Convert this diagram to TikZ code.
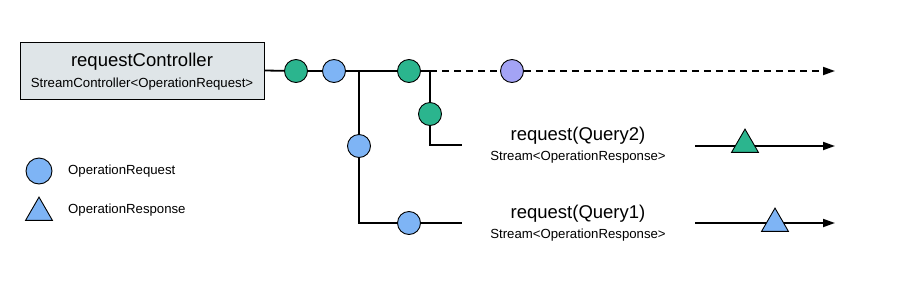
\documentclass[tikz,border=0pt]{standalone}
\usepackage{fontspec}
\setmainfont{Liberation Sans}
\usetikzlibrary{arrows.meta,shapes.geometric}
\definecolor{tgreen}{HTML}{2BB58E}
\definecolor{tblue}{HTML}{7EB4F5}
\definecolor{tpurple}{HTML}{A3A3F5}
\definecolor{tbox}{HTML}{DFE5E8}
\tikzset{
  dot/.style={circle,draw=black,line width=0.9pt,minimum size=23pt,inner sep=0pt},
  tri/.style={regular polygon,regular polygon sides=3,draw=black,line width=0.9pt,minimum size=31pt,inner sep=0pt},
  wire/.style={line width=1.8pt,black},
  dwire/.style={wire,dash pattern=on 7pt off 5pt},
  tip/.style={-{Triangle[length=12pt,width=8pt]}},
  big/.style={font=\fontsize{18.5}{22}\selectfont,inner sep=0pt},
  small/.style={font=\fontsize{13.2}{16}\selectfont,inner sep=0pt}
}
\begin{document}
\begin{tikzpicture}[x=1pt,y=-1pt]
\useasboundingbox (0,0) rectangle (900,290);
% controller box
\node[draw=black,line width=0.9pt,fill=tbox,minimum width=244pt,minimum height=57pt,inner sep=0pt] (ctrl) at (142,70.5) {};
\node[big] (ctitle) at (142,62) {requestController};
\node[small] (csub) at (142,84) {StreamController<OperationRequest>};
% junction coordinates
\coordinate (j1) at (359,71);
\coordinate (j2) at (430,71);
\coordinate (c1) at (359,223);
\coordinate (c2) at (430,145);
\coordinate (e1) at (462,223);
\coordinate (e2) at (462,145);
\coordinate (mend) at (835,71);
\coordinate (s2) at (695,146);
\coordinate (t2) at (835,146);
\coordinate (s1) at (695,223);
\coordinate (t1) at (835,223);
% circles
\node[dot,fill=tgreen] (g1) at (296,71) {};
\node[dot,fill=tblue] (b1) at (334,71) {};
\node[dot,fill=tgreen] (g2) at (409,71) {};
\node[dot,fill=tpurple] (p1) at (512,71) {};
\node[dot,fill=tblue] (b2) at (359,146) {};
\node[dot,fill=tgreen] (g3) at (430,114) {};
\node[dot,fill=tblue] (b3) at (409,223) {};
% main line
\draw[wire] (ctrl.east) -- (g1);
\draw[wire] (g1) -- (b1);
\draw[wire] (b1) -- (j1) -- (g2);
\draw[wire] (g2) -- (j2);
\draw[dwire] (j2) -- (p1);
\draw[dwire,tip] (p1) -- (mend);
% branches
\draw[wire] (j1) -- (b2);
\draw[wire] (b2) -- (c1) -- (b3);
\draw[wire] (b3) -- (e1);
\draw[wire] (j2) -- (g3);
\draw[wire] (g3) -- (c2) -- (e2);
% labels
\node[big] (q2) at (578,136) {request(Query2)};
\node[small] (q2s) at (578,157) {Stream<OperationResponse>};
\node[big] (q1) at (578,214) {request(Query1)};
\node[small] (q1s) at (578,235) {Stream<OperationResponse>};
% output streams
\draw[wire,tip] (s2) -- (t2);
\draw[wire,tip] (s1) -- (t1);
\node[tri,fill=tgreen] (r2) at (745,144.6) {};
\node[tri,fill=tblue] (r1) at (775,223.6) {};
% legend
\node[dot,fill=tblue,minimum size=26pt] (lc) at (39,171) {};
\node[small,anchor=west] (lct) at (68,171) {OperationRequest};
\node[tri,fill=tblue] (lt) at (39,212.6) {};
\node[small,anchor=west] (ltt) at (68,210) {OperationResponse};
\end{tikzpicture}
\end{document}
